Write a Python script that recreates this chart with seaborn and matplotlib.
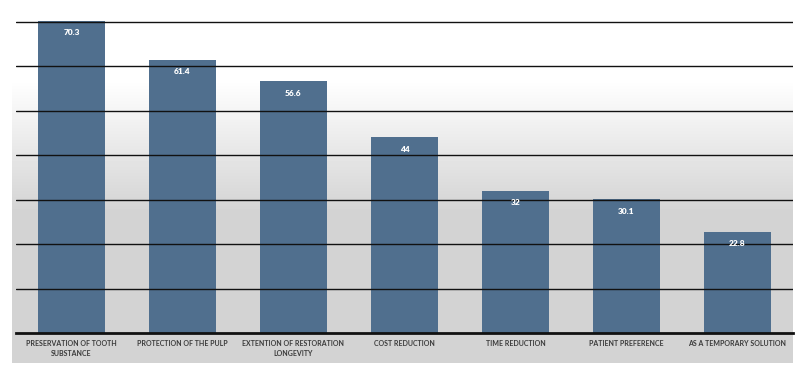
import numpy as np
import matplotlib
matplotlib.use('Agg')
import matplotlib.pyplot as plt
from matplotlib import font_manager
import seaborn as sns

# reasons for choosing the technique, percent of respondents
categories = ['PRESERVATION OF TOOTH\nSUBSTANCE', 'PROTECTION OF THE PULP',
              'EXTENTION OF RESTORATION\nLONGEVITY', 'COST REDUCTION',
              'TIME REDUCTION', 'PATIENT PREFERENCE', 'AS A TEMPORARY SOLUTION']
values = [70.3, 61.4, 56.6, 44, 32, 30.1, 22.8]
value_labels = ['70.3', '61.4', '56.6', '44', '32', '30.1', '22.8']
grid_ticks = [10, 20, 30, 40, 50, 60, 70]

sns.set_style('white')
plt.rcParams['font.family'] = ['Lato', 'DejaVu Sans']

fig = plt.figure(figsize=(8, 3.73), dpi=100)

# grey gradient panel behind the chart
bg = fig.add_axes([12 / 800, 10 / 373, 781 / 800, 363 / 373], zorder=0)
rows = np.arange(363)
shade = np.clip(1.0 - (rows - 80) / 130 * 0.17, 0.83, 1.0)
grad = np.repeat(shade[:, None], 2, axis=1)
bg.imshow(grad, cmap='gray', vmin=0, vmax=1, aspect='auto', extent=[0, 1, 0, 1])
bg.axis('off')

ax = fig.add_axes([16 / 800, 40 / 373, 777 / 800, 320 / 373], zorder=1)
ax.patch.set_alpha(0)
sns.barplot(x=categories, y=values, color='#506f8e', saturation=1, width=0.6,
            linewidth=0, ax=ax)

ax.set_ylim(0, 72)
ax.set_xlim(-0.5, 6.5)
ax.set_yticks(grid_ticks)
ax.set_yticklabels([])
ax.set_axisbelow(False)
ax.yaxis.grid(True, color='#111111', linewidth=1.0)
ax.tick_params(axis='both', length=0)
ax.tick_params(axis='x', pad=5)
for t in ax.get_xticklabels():
    t.set_fontsize(5.0)
    t.set_fontweight('bold')
    t.set_color('#3a3a3a')
    t.set_linespacing(1.55)
for sp in ['top', 'right', 'left']:
    ax.spines[sp].set_visible(False)
ax.spines['bottom'].set_linewidth(2)
ax.spines['bottom'].set_color('#111111')
ax.set_xlabel('')
ax.set_ylabel('')

for i, (v, lab) in enumerate(zip(values, value_labels)):
    ax.annotate(lab, (i, v), xytext=(0, -8.5), textcoords='offset points',
                ha='center', va='center', color='white', fontsize=6,
                fontweight='heavy', zorder=4)

fig.savefig('out.png', dpi=100)
